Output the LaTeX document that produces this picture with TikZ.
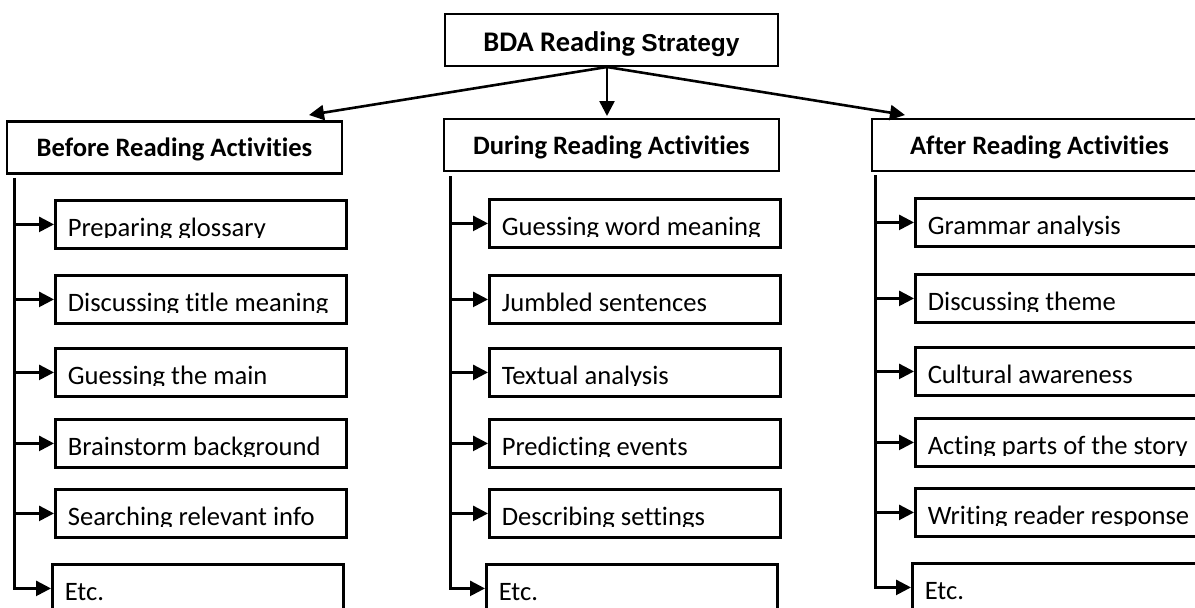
\documentclass[tikz,border=0pt]{standalone}
\usepackage{fontspec}
\usetikzlibrary{arrows.meta}
\setmainfont[Ligatures=NoCommon]{Carlito}
\newfontfamily\arialfont{Liberation Sans}

\tikzset{
    box/.style={draw, line width=2.8pt, inner sep=0pt},
    headbox/.style={box, minimum width=335pt, minimum height=52pt,
        text height=18pt, text depth=0pt,
        font=\fontsize{26.6}{30}\selectfont\bfseries},
    itembox/.style={box, anchor=north west, minimum width=291pt, minimum height=48pt,
        path picture={
            \clip ([yshift=-2pt]path picture bounding box.north west)
                rectangle ([yshift=-37.5pt]path picture bounding box.north east);
            \node[draw=none, anchor=base west, inner sep=0pt, minimum width=0pt, minimum height=0pt,
                font=\fontsize{26.6}{30}\selectfont]
                at ([xshift=11pt,yshift=-36pt]path picture bounding box.north west) {#1};
        }},
    link/.style={line width=2.6pt, -{Triangle[length=15pt,width=15pt]}},
}

\begin{document}
\begin{tikzpicture}[x=1pt, y=-1pt]
    \useasboundingbox (0,0) rectangle (1195,608);
    \clip (0,0) rectangle (1195,608);

    \node[box, minimum width=333pt, minimum height=52pt, text height=23pt, text depth=0pt,
        font=\fontsize{28.4}{32}\selectfont\bfseries] (top) at (611.5,40)
        {BDA Reading {\arialfont\fontsize{24.5}{30}\selectfont Strategy}};

    \node[headbox] (bef) at (174.5,147.5) {Before Reading Activities};
    \node[headbox] (dur) at (611.5,145) {During Reading Activities};
    \node[headbox] (aft) at (1039.5,145) {After Reading Activities};

    \coordinate (hub) at (607,67);
    \coordinate (befin) at (309,115);
    \coordinate (durin) at (607,116);
    \coordinate (aftin) at (905,115);
    \draw[link] (hub) -- (befin);
    \draw[link] (hub) -- (durin);
    \draw[link] (hub) -- (aftin);

    \node[itembox=Preparing glossary] (bef1) at (54,199) {};
    \node[itembox=Discussing title meaning] (bef2) at (54,274) {};
    \node[itembox=Guessing the main] (bef3) at (54,347) {};
    \node[itembox=Brainstorm background] (bef4) at (54,418) {};
    \node[itembox=Searching relevant info] (bef5) at (54,488) {};
    \node[itembox=Etc.] (bef6) at (51,563) {};

    \node[itembox=Guessing word meaning] (dur1) at (488,198) {};
    \node[itembox=Jumbled sentences] (dur2) at (488,274) {};
    \node[itembox=Textual analysis] (dur3) at (488,347) {};
    \node[itembox=Predicting events] (dur4) at (488,418) {};
    \node[itembox=Describing settings] (dur5) at (488,488) {};
    \node[itembox=Etc.] (dur6) at (485,563) {};

    \node[itembox=Grammar analysis] (aft1) at (914,197) {};
    \node[itembox=Discussing theme] (aft2) at (914,273) {};
    \node[itembox=Cultural awareness] (aft3) at (914,346) {};
    \node[itembox=Acting parts of the story] (aft4) at (914,417) {};
    \node[itembox=Writing reader response] (aft5) at (914,487) {};
    \node[itembox=Etc.] (aft6) at (911,562) {};

    \draw[link] ([xshift=9pt,yshift=-3pt]bef.south west) |- (bef6.west);
    \draw[link] ([xshift=9pt]bef.south west |- bef1.west) -- (bef1.west);
    \draw[link] ([xshift=9pt]bef.south west |- bef2.west) -- (bef2.west);
    \draw[link] ([xshift=9pt]bef.south west |- bef3.west) -- (bef3.west);
    \draw[link] ([xshift=9pt]bef.south west |- bef4.west) -- (bef4.west);
    \draw[link] ([xshift=9pt]bef.south west |- bef5.west) -- (bef5.west);

    \draw[link] ([xshift=8pt,yshift=-4pt]dur.south west) |- (dur6.west);
    \draw[link] ([xshift=8pt]dur.south west |- dur1.west) -- (dur1.west);
    \draw[link] ([xshift=8pt]dur.south west |- dur2.west) -- (dur2.west);
    \draw[link] ([xshift=8pt]dur.south west |- dur3.west) -- (dur3.west);
    \draw[link] ([xshift=8pt]dur.south west |- dur4.west) -- (dur4.west);
    \draw[link] ([xshift=8pt]dur.south west |- dur5.west) -- (dur5.west);

    \draw[link] ([xshift=5pt,yshift=-3pt]aft.south west) |- (aft6.west);
    \draw[link] ([xshift=5pt]aft.south west |- aft1.west) -- (aft1.west);
    \draw[link] ([xshift=5pt]aft.south west |- aft2.west) -- (aft2.west);
    \draw[link] ([xshift=5pt]aft.south west |- aft3.west) -- (aft3.west);
    \draw[link] ([xshift=5pt]aft.south west |- aft4.west) -- (aft4.west);
    \draw[link] ([xshift=5pt]aft.south west |- aft5.west) -- (aft5.west);
\end{tikzpicture}
\end{document}
